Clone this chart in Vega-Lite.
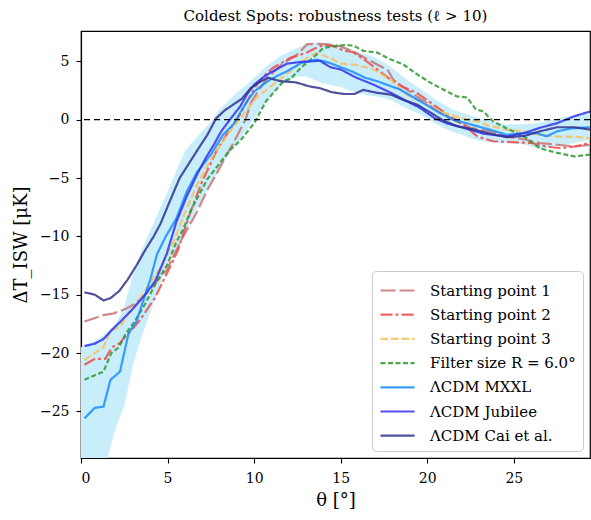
{
  "$schema": "https://vega.github.io/schema/vega-lite/v6.json",
  "width": 509,
  "height": 427,
  "autosize": {"type": "none"},
  "padding": {"left": 81, "top": 31, "right": 1, "bottom": 62},
  "background": "white",
  "title": {"text": "Coldest Spots: robustness tests (ℓ > 10)", "font": "DejaVu Serif", "fontSize": 15, "fontWeight": "normal", "color": "black", "offset": 7},
  "config": {
    "view": {"stroke": "black", "strokeWidth": 1.2},
    "axis": {"domainColor": "black", "domainWidth": 1.2, "tickColor": "black", "tickWidth": 1.1, "tickSize": 5, "labelFont": "DejaVu Serif", "labelFontSize": 14, "labelColor": "black", "titleFont": "DejaVu Serif", "titleFontSize": 18, "titleFontWeight": "normal", "titleColor": "black", "grid": false, "labelPadding": 7},
    "legend": {"labelFont": "DejaVu Serif", "labelFontSize": 15, "labelColor": "black"}
  },
  "datasets": {
    "band": [
      {"x":0,"lo":-30,"hi":-19.5},{"x":0.5,"lo":-30,"hi":-19.2},{"x":1,"lo":-30,"hi":-18.8},{"x":1.5,"lo":-29.2,"hi":-18.2},{"x":2,"lo":-26.4,"hi":-17.5},{"x":2.5,"lo":-24.5,"hi":-16.0},{"x":3,"lo":-21.0,"hi":-13.3},{"x":3.5,"lo":-18.6,"hi":-11.2},{"x":4,"lo":-16.5,"hi":-9.5},{"x":4.5,"lo":-14.4,"hi":-7.8},{"x":5,"lo":-12.4,"hi":-6.2},{"x":5.5,"lo":-11.1,"hi":-4.4},{"x":6,"lo":-9.8,"hi":-2.7},{"x":6.5,"lo":-8.2,"hi":-1.8},{"x":7,"lo":-6.8,"hi":-1.0},{"x":7.5,"lo":-5.5,"hi":-0.2},{"x":8,"lo":-4.2,"hi":0.9},{"x":8.5,"lo":-3.1,"hi":1.6},{"x":9,"lo":-2.1,"hi":2.3},{"x":9.5,"lo":-1.0,"hi":2.9},{"x":10,"lo":0.1,"hi":3.6},{"x":10.5,"lo":1.2,"hi":4.3},{"x":11,"lo":2.1,"hi":4.9},{"x":11.5,"lo":2.9,"hi":5.45},{"x":12,"lo":3.4,"hi":5.8},{"x":12.5,"lo":3.7,"hi":6.15},{"x":13,"lo":3.7,"hi":6.5},{"x":13.5,"lo":3.4,"hi":6.6},{"x":14,"lo":3.1,"hi":6.6},{"x":14.5,"lo":2.95,"hi":6.5},{"x":15,"lo":2.8,"hi":6.3},{"x":15.5,"lo":2.5,"hi":6.1},{"x":16,"lo":2.3,"hi":5.8},{"x":16.5,"lo":2.1,"hi":5.6},{"x":17,"lo":2.0,"hi":5.3},{"x":17.5,"lo":1.85,"hi":4.9},{"x":18,"lo":1.6,"hi":4.4},{"x":18.5,"lo":1.2,"hi":3.8},{"x":19,"lo":0.85,"hi":3.2},{"x":19.5,"lo":0.5,"hi":2.75},{"x":20,"lo":0.1,"hi":2.25},{"x":20.5,"lo":-0.35,"hi":1.7},{"x":21,"lo":-0.75,"hi":1.25},{"x":21.5,"lo":-1.05,"hi":0.85},{"x":22,"lo":-1.3,"hi":0.6},{"x":22.5,"lo":-1.6,"hi":0.35},{"x":23,"lo":-1.8,"hi":0.15},{"x":23.5,"lo":-1.9,"hi":-0.1},{"x":24,"lo":-1.95,"hi":-0.25},{"x":24.5,"lo":-2.0,"hi":-0.4},{"x":25,"lo":-2.05,"hi":-0.4},{"x":25.5,"lo":-2.1,"hi":-0.4},{"x":26,"lo":-2.3,"hi":-0.35},{"x":26.5,"lo":-2.5,"hi":-0.25},{"x":27,"lo":-2.4,"hi":-0.1},{"x":27.5,"lo":-2.2,"hi":0.1},{"x":28,"lo":-2.1,"hi":0.25},{"x":28.5,"lo":-2.0,"hi":0.35},{"x":29,"lo":-1.85,"hi":0.5},{"x":29.5,"lo":-1.7,"hi":0.6}
    ],
    "lines": [
      {"s":"Starting point 1","x":0.2,"y":-17.3},{"s":"Starting point 1","x":1.3,"y":-16.75},{"s":"Starting point 1","x":1.9,"y":-16.6},{"s":"Starting point 1","x":2.6,"y":-16.2},{"s":"Starting point 1","x":3.1,"y":-15.8},{"s":"Starting point 1","x":3.6,"y":-15.2},{"s":"Starting point 1","x":4.3,"y":-14.0},{"s":"Starting point 1","x":4.95,"y":-12.9},{"s":"Starting point 1","x":5.8,"y":-10.3},{"s":"Starting point 1","x":6.7,"y":-7.9},{"s":"Starting point 1","x":7.3,"y":-6.0},{"s":"Starting point 1","x":7.85,"y":-4.6},{"s":"Starting point 1","x":8.3,"y":-3.3},{"s":"Starting point 1","x":8.8,"y":-2.0},{"s":"Starting point 1","x":9.5,"y":0.0},{"s":"Starting point 1","x":9.8,"y":1.4},{"s":"Starting point 1","x":10.3,"y":2.6},{"s":"Starting point 1","x":10.75,"y":3.5},{"s":"Starting point 1","x":11.2,"y":4.2},{"s":"Starting point 1","x":11.7,"y":4.85},{"s":"Starting point 1","x":12.5,"y":5.6},{"s":"Starting point 1","x":13.05,"y":6.45},{"s":"Starting point 1","x":13.5,"y":6.5},{"s":"Starting point 1","x":14.2,"y":6.45},{"s":"Starting point 1","x":15.0,"y":6.3},{"s":"Starting point 1","x":15.9,"y":5.7},{"s":"Starting point 1","x":16.9,"y":4.9},{"s":"Starting point 1","x":17.4,"y":4.5},{"s":"Starting point 1","x":17.7,"y":4.3},{"s":"Starting point 1","x":18.05,"y":3.4},{"s":"Starting point 1","x":18.8,"y":2.6},{"s":"Starting point 1","x":19.8,"y":1.6},{"s":"Starting point 1","x":20.75,"y":0.6},{"s":"Starting point 1","x":21.5,"y":0.0},{"s":"Starting point 1","x":22.5,"y":-0.7},{"s":"Starting point 1","x":23.6,"y":-1.0},{"s":"Starting point 1","x":24.6,"y":-1.45},{"s":"Starting point 1","x":25.6,"y":-1.7},{"s":"Starting point 1","x":26.5,"y":-2.0},{"s":"Starting point 1","x":27.5,"y":-2.15},{"s":"Starting point 1","x":28.5,"y":-2.3},{"s":"Starting point 1","x":29.4,"y":-2.15},
      {"s":"Starting point 2","x":0.2,"y":-21.0},{"s":"Starting point 2","x":0.8,"y":-20.5},{"s":"Starting point 2","x":1.4,"y":-20.5},{"s":"Starting point 2","x":1.8,"y":-19.5},{"s":"Starting point 2","x":2.2,"y":-19.2},{"s":"Starting point 2","x":2.75,"y":-18.3},{"s":"Starting point 2","x":3.4,"y":-17.2},{"s":"Starting point 2","x":4.3,"y":-15.2},{"s":"Starting point 2","x":5.05,"y":-12.9},{"s":"Starting point 2","x":5.6,"y":-11.2},{"s":"Starting point 2","x":6.3,"y":-8.0},{"s":"Starting point 2","x":7.0,"y":-5.3},{"s":"Starting point 2","x":7.85,"y":-2.6},{"s":"Starting point 2","x":8.4,"y":-1.3},{"s":"Starting point 2","x":9.0,"y":0.0},{"s":"Starting point 2","x":9.6,"y":1.6},{"s":"Starting point 2","x":10.15,"y":3.0},{"s":"Starting point 2","x":10.6,"y":3.8},{"s":"Starting point 2","x":11.1,"y":4.45},{"s":"Starting point 2","x":12.1,"y":5.3},{"s":"Starting point 2","x":13.05,"y":5.75},{"s":"Starting point 2","x":13.5,"y":6.1},{"s":"Starting point 2","x":14.0,"y":6.4},{"s":"Starting point 2","x":14.6,"y":6.3},{"s":"Starting point 2","x":15.2,"y":5.9},{"s":"Starting point 2","x":15.7,"y":5.8},{"s":"Starting point 2","x":16.5,"y":5.0},{"s":"Starting point 2","x":17.2,"y":4.2},{"s":"Starting point 2","x":17.9,"y":3.4},{"s":"Starting point 2","x":18.6,"y":2.8},{"s":"Starting point 2","x":19.4,"y":2.3},{"s":"Starting point 2","x":20.2,"y":1.45},{"s":"Starting point 2","x":21.3,"y":0.3},{"s":"Starting point 2","x":22.1,"y":-0.45},{"s":"Starting point 2","x":22.9,"y":-1.45},{"s":"Starting point 2","x":23.8,"y":-1.85},{"s":"Starting point 2","x":25.2,"y":-1.95},{"s":"Starting point 2","x":26.0,"y":-2.0},{"s":"Starting point 2","x":26.9,"y":-2.3},{"s":"Starting point 2","x":27.7,"y":-2.45},{"s":"Starting point 2","x":28.5,"y":-2.3},{"s":"Starting point 2","x":29.4,"y":-2.0},
      {"s":"Starting point 3","x":0.2,"y":-20.6},{"s":"Starting point 3","x":0.8,"y":-20.0},{"s":"Starting point 3","x":1.3,"y":-19.5},{"s":"Starting point 3","x":1.7,"y":-18.1},{"s":"Starting point 3","x":2.2,"y":-17.8},{"s":"Starting point 3","x":2.6,"y":-17.0},{"s":"Starting point 3","x":3.2,"y":-15.8},{"s":"Starting point 3","x":4.0,"y":-14.0},{"s":"Starting point 3","x":4.7,"y":-12.4},{"s":"Starting point 3","x":5.4,"y":-10.3},{"s":"Starting point 3","x":6.1,"y":-7.6},{"s":"Starting point 3","x":6.8,"y":-5.3},{"s":"Starting point 3","x":7.5,"y":-3.4},{"s":"Starting point 3","x":8.4,"y":-1.4},{"s":"Starting point 3","x":9.4,"y":0.5},{"s":"Starting point 3","x":10.15,"y":1.9},{"s":"Starting point 3","x":11.1,"y":3.0},{"s":"Starting point 3","x":12.1,"y":4.15},{"s":"Starting point 3","x":13.05,"y":5.3},{"s":"Starting point 3","x":13.6,"y":5.7},{"s":"Starting point 3","x":14.4,"y":5.3},{"s":"Starting point 3","x":15.0,"y":4.8},{"s":"Starting point 3","x":15.9,"y":4.7},{"s":"Starting point 3","x":16.9,"y":4.3},{"s":"Starting point 3","x":17.9,"y":3.4},{"s":"Starting point 3","x":18.8,"y":2.15},{"s":"Starting point 3","x":19.8,"y":1.45},{"s":"Starting point 3","x":20.75,"y":0.7},{"s":"Starting point 3","x":21.9,"y":0.15},{"s":"Starting point 3","x":22.9,"y":-0.15},{"s":"Starting point 3","x":23.6,"y":-0.55},{"s":"Starting point 3","x":24.6,"y":-0.85},{"s":"Starting point 3","x":25.6,"y":-1.0},{"s":"Starting point 3","x":26.5,"y":-1.3},{"s":"Starting point 3","x":27.5,"y":-1.45},{"s":"Starting point 3","x":28.5,"y":-1.45},{"s":"Starting point 3","x":29.4,"y":-1.6},
      {"s":"Filter size R = 6.0°","x":0.2,"y":-22.3},{"s":"Filter size R = 6.0°","x":0.8,"y":-21.9},{"s":"Filter size R = 6.0°","x":1.3,"y":-21.6},{"s":"Filter size R = 6.0°","x":1.75,"y":-20.0},{"s":"Filter size R = 6.0°","x":2.2,"y":-19.5},{"s":"Filter size R = 6.0°","x":2.6,"y":-18.3},{"s":"Filter size R = 6.0°","x":3.1,"y":-17.3},{"s":"Filter size R = 6.0°","x":3.7,"y":-15.8},{"s":"Filter size R = 6.0°","x":4.4,"y":-13.8},{"s":"Filter size R = 6.0°","x":5.0,"y":-12.4},{"s":"Filter size R = 6.0°","x":5.5,"y":-10.5},{"s":"Filter size R = 6.0°","x":5.9,"y":-9.4},{"s":"Filter size R = 6.0°","x":6.4,"y":-7.6},{"s":"Filter size R = 6.0°","x":7.3,"y":-5.1},{"s":"Filter size R = 6.0°","x":8.6,"y":-2.6},{"s":"Filter size R = 6.0°","x":9.2,"y":-1.8},{"s":"Filter size R = 6.0°","x":10.0,"y":-0.3},{"s":"Filter size R = 6.0°","x":10.7,"y":1.6},{"s":"Filter size R = 6.0°","x":11.7,"y":3.3},{"s":"Filter size R = 6.0°","x":12.1,"y":3.5},{"s":"Filter size R = 6.0°","x":12.7,"y":4.45},{"s":"Filter size R = 6.0°","x":13.4,"y":5.3},{"s":"Filter size R = 6.0°","x":14.0,"y":6.15},{"s":"Filter size R = 6.0°","x":14.6,"y":6.3},{"s":"Filter size R = 6.0°","x":15.2,"y":6.4},{"s":"Filter size R = 6.0°","x":15.75,"y":6.35},{"s":"Filter size R = 6.0°","x":16.3,"y":5.9},{"s":"Filter size R = 6.0°","x":17.1,"y":5.75},{"s":"Filter size R = 6.0°","x":17.9,"y":5.15},{"s":"Filter size R = 6.0°","x":18.6,"y":4.75},{"s":"Filter size R = 6.0°","x":19.4,"y":3.9},{"s":"Filter size R = 6.0°","x":20.2,"y":3.15},{"s":"Filter size R = 6.0°","x":20.9,"y":2.6},{"s":"Filter size R = 6.0°","x":21.7,"y":2.0},{"s":"Filter size R = 6.0°","x":22.3,"y":1.9},{"s":"Filter size R = 6.0°","x":22.8,"y":0.9},{"s":"Filter size R = 6.0°","x":23.25,"y":0.7},{"s":"Filter size R = 6.0°","x":23.8,"y":-0.15},{"s":"Filter size R = 6.0°","x":24.6,"y":-0.75},{"s":"Filter size R = 6.0°","x":25.6,"y":-1.45},{"s":"Filter size R = 6.0°","x":26.5,"y":-2.45},{"s":"Filter size R = 6.0°","x":27.5,"y":-2.85},{"s":"Filter size R = 6.0°","x":28.5,"y":-3.15},{"s":"Filter size R = 6.0°","x":29.4,"y":-3.0},
      {"s":"ΛCDM MXXL","x":0.2,"y":-25.6},{"s":"ΛCDM MXXL","x":0.8,"y":-24.7},{"s":"ΛCDM MXXL","x":1.3,"y":-24.6},{"s":"ΛCDM MXXL","x":1.7,"y":-22.3},{"s":"ΛCDM MXXL","x":2.25,"y":-21.6},{"s":"ΛCDM MXXL","x":2.75,"y":-18.3},{"s":"ΛCDM MXXL","x":3.2,"y":-17.3},{"s":"ΛCDM MXXL","x":3.6,"y":-15.5},{"s":"ΛCDM MXXL","x":4.0,"y":-13.7},{"s":"ΛCDM MXXL","x":4.4,"y":-11.5},{"s":"ΛCDM MXXL","x":4.9,"y":-10.0},{"s":"ΛCDM MXXL","x":5.5,"y":-8.5},{"s":"ΛCDM MXXL","x":6.1,"y":-6.2},{"s":"ΛCDM MXXL","x":6.7,"y":-4.5},{"s":"ΛCDM MXXL","x":7.5,"y":-3.0},{"s":"ΛCDM MXXL","x":8.2,"y":-1.3},{"s":"ΛCDM MXXL","x":8.8,"y":-0.4},{"s":"ΛCDM MXXL","x":9.2,"y":0.6},{"s":"ΛCDM MXXL","x":9.6,"y":1.6},{"s":"ΛCDM MXXL","x":10.0,"y":2.4},{"s":"ΛCDM MXXL","x":10.5,"y":3.0},{"s":"ΛCDM MXXL","x":10.9,"y":3.4},{"s":"ΛCDM MXXL","x":11.4,"y":3.8},{"s":"ΛCDM MXXL","x":11.9,"y":4.15},{"s":"ΛCDM MXXL","x":12.7,"y":4.85},{"s":"ΛCDM MXXL","x":13.6,"y":5.15},{"s":"ΛCDM MXXL","x":14.3,"y":4.9},{"s":"ΛCDM MXXL","x":15.0,"y":4.5},{"s":"ΛCDM MXXL","x":15.7,"y":4.1},{"s":"ΛCDM MXXL","x":16.4,"y":3.6},{"s":"ΛCDM MXXL","x":17.1,"y":3.3},{"s":"ΛCDM MXXL","x":18.4,"y":2.6},{"s":"ΛCDM MXXL","x":19.1,"y":2.0},{"s":"ΛCDM MXXL","x":19.8,"y":1.4},{"s":"ΛCDM MXXL","x":20.75,"y":0.55},{"s":"ΛCDM MXXL","x":21.5,"y":0.0},{"s":"ΛCDM MXXL","x":22.5,"y":-0.4},{"s":"ΛCDM MXXL","x":23.6,"y":-0.85},{"s":"ΛCDM MXXL","x":24.6,"y":-1.3},{"s":"ΛCDM MXXL","x":25.6,"y":-1.15},{"s":"ΛCDM MXXL","x":26.3,"y":-1.15},{"s":"ΛCDM MXXL","x":26.9,"y":-1.43},{"s":"ΛCDM MXXL","x":27.5,"y":-1.0},{"s":"ΛCDM MXXL","x":28.3,"y":-0.75},{"s":"ΛCDM MXXL","x":29.4,"y":-0.65},
      {"s":"ΛCDM Jubilee","x":0.2,"y":-19.4},{"s":"ΛCDM Jubilee","x":0.8,"y":-19.2},{"s":"ΛCDM Jubilee","x":1.3,"y":-18.8},{"s":"ΛCDM Jubilee","x":1.8,"y":-18.0},{"s":"ΛCDM Jubilee","x":2.35,"y":-17.2},{"s":"ΛCDM Jubilee","x":3.0,"y":-16.2},{"s":"ΛCDM Jubilee","x":3.7,"y":-15.0},{"s":"ΛCDM Jubilee","x":4.3,"y":-13.8},{"s":"ΛCDM Jubilee","x":4.95,"y":-11.5},{"s":"ΛCDM Jubilee","x":5.5,"y":-8.8},{"s":"ΛCDM Jubilee","x":6.1,"y":-6.6},{"s":"ΛCDM Jubilee","x":6.7,"y":-4.7},{"s":"ΛCDM Jubilee","x":7.2,"y":-3.3},{"s":"ΛCDM Jubilee","x":7.65,"y":-2.2},{"s":"ΛCDM Jubilee","x":8.1,"y":-1.0},{"s":"ΛCDM Jubilee","x":8.6,"y":0.0},{"s":"ΛCDM Jubilee","x":9.2,"y":1.15},{"s":"ΛCDM Jubilee","x":9.6,"y":2.2},{"s":"ΛCDM Jubilee","x":10.0,"y":3.0},{"s":"ΛCDM Jubilee","x":10.5,"y":3.6},{"s":"ΛCDM Jubilee","x":10.9,"y":4.0},{"s":"ΛCDM Jubilee","x":11.4,"y":4.4},{"s":"ΛCDM Jubilee","x":11.9,"y":4.8},{"s":"ΛCDM Jubilee","x":12.7,"y":4.95},{"s":"ΛCDM Jubilee","x":13.8,"y":5.05},{"s":"ΛCDM Jubilee","x":14.4,"y":4.5},{"s":"ΛCDM Jubilee","x":15.0,"y":4.3},{"s":"ΛCDM Jubilee","x":15.9,"y":3.6},{"s":"ΛCDM Jubilee","x":16.9,"y":3.0},{"s":"ΛCDM Jubilee","x":17.9,"y":2.3},{"s":"ΛCDM Jubilee","x":18.8,"y":1.6},{"s":"ΛCDM Jubilee","x":19.6,"y":1.0},{"s":"ΛCDM Jubilee","x":20.4,"y":0.15},{"s":"ΛCDM Jubilee","x":21.1,"y":-0.3},{"s":"ΛCDM Jubilee","x":22.1,"y":-0.7},{"s":"ΛCDM Jubilee","x":23.25,"y":-1.2},{"s":"ΛCDM Jubilee","x":24.6,"y":-1.45},{"s":"ΛCDM Jubilee","x":25.6,"y":-1.15},{"s":"ΛCDM Jubilee","x":26.5,"y":-0.7},{"s":"ΛCDM Jubilee","x":27.5,"y":-0.3},{"s":"ΛCDM Jubilee","x":28.5,"y":0.3},{"s":"ΛCDM Jubilee","x":29.4,"y":0.7},
      {"s":"ΛCDM Cai et al.","x":0.2,"y":-14.8},{"s":"ΛCDM Cai et al.","x":0.8,"y":-15.0},{"s":"ΛCDM Cai et al.","x":1.3,"y":-15.5},{"s":"ΛCDM Cai et al.","x":1.7,"y":-15.3},{"s":"ΛCDM Cai et al.","x":2.2,"y":-14.7},{"s":"ΛCDM Cai et al.","x":2.7,"y":-13.7},{"s":"ΛCDM Cai et al.","x":3.2,"y":-12.5},{"s":"ΛCDM Cai et al.","x":3.7,"y":-11.2},{"s":"ΛCDM Cai et al.","x":4.2,"y":-10.0},{"s":"ΛCDM Cai et al.","x":4.6,"y":-8.9},{"s":"ΛCDM Cai et al.","x":5.1,"y":-7.1},{"s":"ΛCDM Cai et al.","x":5.7,"y":-5.0},{"s":"ΛCDM Cai et al.","x":6.3,"y":-3.6},{"s":"ΛCDM Cai et al.","x":6.9,"y":-2.2},{"s":"ΛCDM Cai et al.","x":7.3,"y":-1.3},{"s":"ΛCDM Cai et al.","x":7.8,"y":0.1},{"s":"ΛCDM Cai et al.","x":8.3,"y":0.8},{"s":"ΛCDM Cai et al.","x":8.8,"y":1.3},{"s":"ΛCDM Cai et al.","x":9.3,"y":1.8},{"s":"ΛCDM Cai et al.","x":9.8,"y":2.7},{"s":"ΛCDM Cai et al.","x":10.3,"y":3.2},{"s":"ΛCDM Cai et al.","x":10.8,"y":3.6},{"s":"ΛCDM Cai et al.","x":11.5,"y":3.3},{"s":"ΛCDM Cai et al.","x":12.4,"y":3.2},{"s":"ΛCDM Cai et al.","x":13.2,"y":2.85},{"s":"ΛCDM Cai et al.","x":13.8,"y":2.7},{"s":"ΛCDM Cai et al.","x":14.5,"y":2.35},{"s":"ΛCDM Cai et al.","x":15.2,"y":2.2},{"s":"ΛCDM Cai et al.","x":15.8,"y":2.2},{"s":"ΛCDM Cai et al.","x":16.3,"y":2.55},{"s":"ΛCDM Cai et al.","x":17.1,"y":2.3},{"s":"ΛCDM Cai et al.","x":17.9,"y":2.15},{"s":"ΛCDM Cai et al.","x":18.6,"y":1.7},{"s":"ΛCDM Cai et al.","x":19.4,"y":1.3},{"s":"ΛCDM Cai et al.","x":20.2,"y":0.6},{"s":"ΛCDM Cai et al.","x":20.9,"y":-0.05},{"s":"ΛCDM Cai et al.","x":21.7,"y":-0.55},{"s":"ΛCDM Cai et al.","x":22.7,"y":-0.85},{"s":"ΛCDM Cai et al.","x":23.6,"y":-1.2},{"s":"ΛCDM Cai et al.","x":24.6,"y":-1.5},{"s":"ΛCDM Cai et al.","x":25.6,"y":-1.4},{"s":"ΛCDM Cai et al.","x":26.5,"y":-1.0},{"s":"ΛCDM Cai et al.","x":27.5,"y":-0.65},{"s":"ΛCDM Cai et al.","x":28.5,"y":-0.65},{"s":"ΛCDM Cai et al.","x":29.4,"y":-0.85}
    ],
    "zero": [{"y": 0}]
  },
  "layer": [
    {
      "data": {"name": "band"},
      "mark": {"type": "area", "color": "#c8edfb", "opacity": 1, "clip": true},
      "encoding": {
        "x": {"field": "x", "type": "quantitative", "scale": {"domain": [0, 29.4], "nice": false, "zero": false}, "axis": {"values": [0,5,10,15,20,25], "title": "θ [°]", "titlePadding": 6, "labelPadding": 8}},
        "y": {"field": "lo", "type": "quantitative", "scale": {"domain": [-29, 7.6], "nice": false, "zero": false}, "axis": {"values": [-25,-20,-15,-10,-5,0,5], "title": "ΔT_ISW [μK]", "titlePadding": 9}},
        "y2": {"field": "hi"}
      }
    },
    {
      "data": {"name": "lines"},
      "mark": {"type": "line", "strokeWidth": 2.2, "opacity": 0.85, "clip": true},
      "encoding": {
        "x": {"field": "x", "type": "quantitative"},
        "y": {"field": "y", "type": "quantitative"},
        "color": {"field": "s", "type": "nominal", "scale": {"domain": ["Starting point 1","Starting point 2","Starting point 3","Filter size R = 6.0°","ΛCDM MXXL","ΛCDM Jubilee","ΛCDM Cai et al."], "range": ["#c87373","#f04a4a","#f8bf5c","#2f9a2f","#1a8cff","#3333f0","#33338f"]},
          "legend": {"title": null, "orient": "bottom-right", "offset": 7, "symbolType": "M-1,0H2.1", "symbolSize": 484, "symbolStrokeWidth": 2.2, "labelOffset": 26, "rowPadding": 3.2, "padding": 7, "fillColor": "rgba(255,255,255,0.85)", "strokeColor": "#cccccc", "cornerRadius": 4}},
        "strokeDash": {"field": "s", "type": "nominal", "scale": {"domain": ["Starting point 1","Starting point 2","Starting point 3","Filter size R = 6.0°","ΛCDM MXXL","ΛCDM Jubilee","ΛCDM Cai et al."], "range": [[15,4],[12,3,3,3],[7.5,3],[5,2.5],[1,0],[1,0],[1,0]]}, "legend": null}
      }
    },
    {
      "data": {"name": "zero"},
      "mark": {"type": "rule", "color": "black", "strokeWidth": 1.4, "strokeDash": [6, 4]},
      "encoding": {"y": {"field": "y", "type": "quantitative"}}
    }
  ]
}
